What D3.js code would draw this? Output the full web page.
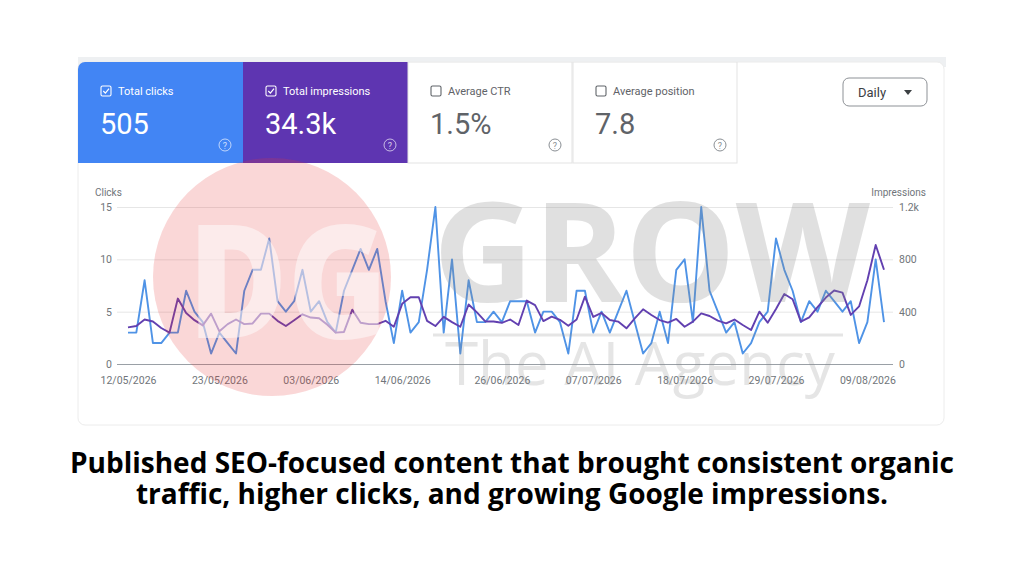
<!DOCTYPE html>
<html>
<head>
<meta charset="utf-8">
<script src="https://cdn.jsdelivr.net/npm/d3@7"></script>
<style>
  html, body { margin: 0; padding: 0; background: #ffffff; }
  svg { display: block; }
  .ui { font-family: Roboto, "Noto Sans", sans-serif; }
</style>
</head>
<body>
<svg id="chart"></svg>
<script>
// ---- data ----
const startDay = "12/05/2026";
const tickLabels = ["12/05/2026", "23/05/2026", "03/06/2026", "14/06/2026", "26/06/2026",
    "07/07/2026", "18/07/2026", "29/07/2026", "09/08/2026"];

const clicks = [3, 3, 8, 2, 2, 3, 3, 7, 5, 4, 1, 3, 2, 1, 7, 9, 9, 12, 6, 5,
    6, 9, 5, 6, 4, 3, 7, 9, 11, 9, 11, 6, 2, 7, 3, 4, 9, 15, 3, 10,
    1, 8, 4, 4, 5, 4, 6, 6, 6, 3, 5, 5, 4, 1, 7, 7, 3, 5, 3, 5,
    7, 4, 1, 2, 5, 2, 9, 10, 4, 15, 7, 5, 3, 4, 1, 2, 4, 5, 12, 9,
    7, 4, 6, 5, 7, 6, 5, 6, 2, 4, 10, 4];

const impressions = [280, 290, 340, 325, 275, 240, 500, 390, 335, 295, 385, 250, 305, 340, 305, 310, 385, 385, 330, 290,
    335, 380, 355, 350, 300, 240, 245, 415, 315, 305, 305, 330, 285, 460, 510, 510, 330, 290, 360, 320,
    285, 455, 395, 325, 325, 315, 340, 298, 485, 450, 328, 362, 338, 292, 340, 515, 360, 390, 336, 324,
    273, 349, 418, 375, 336, 316, 344, 285, 324, 387, 367, 331, 311, 340, 298, 260, 400, 316, 420, 535,
    495, 324, 357, 435, 508, 562, 546, 375, 440, 640, 910, 720];

const clickTicks = [0, 5, 10, 15];
const impressionTicks = [0, 400, 800, 1200];

const metricNames = ["Total clicks", "Total impressions", "Average CTR", "Average position"];
const metricValues = ["505", "34.3k", "1.5%", "7.8"];
const metricChecked = [true, true, false, false];
const metricColors = ["#4285f4", "#5e35b1", "#ffffff", "#ffffff"];

const captionLines = ["Published SEO-focused content that brought consistent organic",
    "traffic, higher clicks, and growing Google impressions."];

// ---- layout ----
const W = 1024, H = 576;
const card = { x: 78, y: 62, w: 866, h: 363 };
const tileW = 165, tileH = 101;
const plot = { left: 117, right: 893, top: 207, bottom: 364, x0: 128, x1: 884 };

const svg = d3.select("#chart")
    .attr("width", W)
    .attr("height", H);

svg.append("rect").attr("width", W).attr("height", H).attr("fill", "#ffffff");

// screenshot frame
svg.append("rect")
    .attr("x", card.x).attr("y", 57)
    .attr("width", card.w + 2).attr("height", 10)
    .attr("fill", "#eef0f2");

svg.append("rect")
    .attr("x", card.x).attr("y", card.y)
    .attr("width", card.w).attr("height", card.h)
    .attr("rx", 7)
    .attr("fill", "#ffffff")
    .attr("stroke", "#ececec");

svg.append("clipPath").attr("id", "cardClip")
    .append("rect")
    .attr("x", card.x).attr("y", card.y)
    .attr("width", card.w).attr("height", card.h)
    .attr("rx", 7);

// ---- metric tiles ----
const tiles = svg.append("g").attr("class", "ui").attr("clip-path", "url(#cardClip)")
    .selectAll("g")
    .data(metricNames)
    .join("g")
    .attr("transform", (d, i) => `translate(${card.x + i * tileW}, ${card.y})`);

tiles.append("rect")
    .attr("width", (d, i) => i < 2 ? tileW : tileW - 1)
    .attr("height", tileH)
    .attr("fill", (d, i) => metricColors[i])
    .attr("stroke", (d, i) => i < 2 ? "none" : "#e3e3e3");

const fg = i => metricChecked[i] ? "#ffffff" : "#5f6368";

// checkbox
tiles.append("rect")
    .attr("x", 23).attr("y", 24)
    .attr("width", 10).attr("height", 10)
    .attr("rx", 1.5)
    .attr("fill", "none")
    .attr("stroke", (d, i) => fg(i))
    .attr("stroke-width", 1.1);

tiles.filter((d, i) => metricChecked[i])
    .append("path")
    .attr("d", "M25.3,29 L27.4,31.2 L31,26.6")
    .attr("fill", "none")
    .attr("stroke", "#ffffff")
    .attr("stroke-width", 1.2);

tiles.append("text")
    .attr("x", 40).attr("y", 33)
    .attr("font-size", 11)
    .attr("fill", (d, i) => metricChecked[i] ? "#ffffff" : "#5f6368")
    .text(d => d);

tiles.append("text")
    .attr("x", 22).attr("y", 72)
    .attr("font-size", 29)
    .attr("fill", (d, i) => metricChecked[i] ? "#ffffff" : "#5f6368")
    .text((d, i) => metricValues[i]);

// help icon
tiles.append("circle")
    .attr("cx", 147).attr("cy", 83)
    .attr("r", 6)
    .attr("fill", "none")
    .attr("stroke", (d, i) => metricChecked[i] ? "rgba(255,255,255,0.65)" : "#8a8f94")
    .attr("stroke-width", 1);

tiles.append("text")
    .attr("x", 147).attr("y", 86.5)
    .attr("text-anchor", "middle")
    .attr("font-size", 9)
    .attr("fill", (d, i) => metricChecked[i] ? "rgba(255,255,255,0.75)" : "#8a8f94")
    .text("?");

// Daily button
const daily = svg.append("g").attr("class", "ui");
daily.append("rect")
    .attr("x", 843).attr("y", 78)
    .attr("width", 84).attr("height", 28)
    .attr("rx", 6)
    .attr("fill", "#ffffff")
    .attr("stroke", "#8d9196");
daily.append("text")
    .attr("x", 858).attr("y", 97)
    .attr("font-size", 13)
    .attr("fill", "#3c4043")
    .text("Daily");
daily.append("path")
    .attr("d", "M904,90 L912,90 L908,95 Z")
    .attr("fill", "#3c4043");

// ---- scales ----
const parseDay = d3.timeParse("%d/%m/%Y");
const start = parseDay(startDay);
const dates = clicks.map((d, i) => d3.timeDay.offset(start, i));

const xScale = d3.scaleTime()
    .domain(d3.extent(dates))
    .range([plot.x0, plot.x1]);

const yClicks = d3.scaleLinear()
    .domain([0, 15])
    .range([plot.bottom, plot.top]);

const yImpr = d3.scaleLinear()
    .domain([0, 1200])
    .range([plot.bottom, plot.top]);

// ---- axes ----
const chart = svg.append("g").attr("class", "ui");

const leftAxis = chart.append("g")
    .attr("transform", `translate(${plot.left},0)`)
    .call(d3.axisLeft(yClicks)
        .tickValues(clickTicks)
        .tickSize(-(plot.right - plot.left))
        .tickPadding(5));
leftAxis.select(".domain").remove();
leftAxis.selectAll(".tick line")
    .attr("stroke", d => d === 0 ? "#9aa0a6" : "#e6e6e6");
leftAxis.selectAll(".tick text")
    .attr("font-size", 10.5)
    .attr("font-family", "Roboto, sans-serif")
    .attr("fill", "#70757a");

const rightAxis = chart.append("g")
    .attr("transform", `translate(${plot.right},0)`)
    .call(d3.axisRight(yImpr)
        .tickValues(impressionTicks)
        .tickSize(0)
        .tickPadding(6)
        .tickFormat(d3.format("~s")));
rightAxis.select(".domain").remove();
rightAxis.selectAll(".tick text")
    .attr("font-size", 10.5)
    .attr("font-family", "Roboto, sans-serif")
    .attr("fill", "#70757a");

const bottomAxis = chart.append("g")
    .attr("transform", `translate(0,${plot.bottom})`)
    .call(d3.axisBottom(xScale)
        .tickValues(tickLabels.map(parseDay))
        .tickSize(0)
        .tickPadding(13)
        .tickFormat(d3.timeFormat("%d/%m/%Y")));
bottomAxis.select(".domain").remove();
bottomAxis.selectAll(".tick text")
    .attr("font-size", 10.5)
    .attr("font-family", "Roboto, sans-serif")
    .attr("fill", "#70757a");

chart.append("text")
    .attr("x", 95).attr("y", 196)
    .attr("font-size", 10)
    .attr("fill", "#70757a")
    .text("Clicks");

chart.append("text")
    .attr("x", 926).attr("y", 196)
    .attr("text-anchor", "end")
    .attr("font-size", 10)
    .attr("fill", "#70757a")
    .text("Impressions");

// ---- lines ----
const clicksLine = d3.line()
    .x((d, i) => xScale(dates[i]))
    .y(d => yClicks(d));

const imprLine = d3.line()
    .x((d, i) => xScale(dates[i]))
    .y(d => yImpr(d));

chart.append("path")
    .datum(clicks)
    .attr("d", clicksLine)
    .attr("fill", "none")
    .attr("stroke", "#4f93e6")
    .attr("stroke-width", 1.9)
    .attr("stroke-linejoin", "round");

chart.append("path")
    .datum(impressions)
    .attr("d", imprLine)
    .attr("fill", "none")
    .attr("stroke", "#6240b0")
    .attr("stroke-width", 1.9)
    .attr("stroke-linejoin", "round");

// ---- watermark ----
const mark = svg.append("g").attr("font-family", "'Open Sans', sans-serif").attr("pointer-events", "none");

mark.append("circle")
    .attr("cx", 272).attr("cy", 277)
    .attr("r", 119)
    .attr("fill", "#e53935")
    .attr("opacity", 0.2);

mark.append("text")
    .attr("x", 188).attr("y", 338)
    .attr("font-size", 158)
    .attr("font-weight", 800)
    .attr("fill", "#ffffff")
    .attr("opacity", 0.5)
    .attr("textLength", 200)
    .attr("lengthAdjust", "spacingAndGlyphs")
    .text("DG");

mark.append("text")
    .attr("x", 433).attr("y", 302)
    .attr("font-size", 138)
    .attr("font-weight", 700)
    .attr("fill", "#8c8c8c")
    .attr("opacity", 0.26)
    .attr("textLength", 437)
    .attr("lengthAdjust", "spacingAndGlyphs")
    .text("GROW");

mark.append("line")
    .attr("x1", 433).attr("x2", 843)
    .attr("y1", 335).attr("y2", 335)
    .attr("stroke", "#8c8c8c")
    .attr("stroke-width", 3)
    .attr("opacity", 0.22);

mark.append("text")
    .attr("x", 445).attr("y", 385)
    .attr("font-size", 60)
    .attr("font-weight", 400)
    .attr("fill", "#8c8c8c")
    .attr("opacity", 0.22)
    .attr("textLength", 390)
    .attr("lengthAdjust", "spacingAndGlyphs")
    .text("The AI Agency");

// ---- caption ----
svg.append("g")
    .selectAll("text")
    .data(captionLines)
    .join("text")
    .attr("x", W / 2)
    .attr("y", (d, i) => 473 + i * 31)
    .attr("text-anchor", "middle")
    .attr("font-family", "'Open Sans', sans-serif")
    .attr("font-weight", 700)
    .attr("font-size", 28)
    .attr("fill", "#000000")
    .text(d => d);
</script>
</body>
</html>
